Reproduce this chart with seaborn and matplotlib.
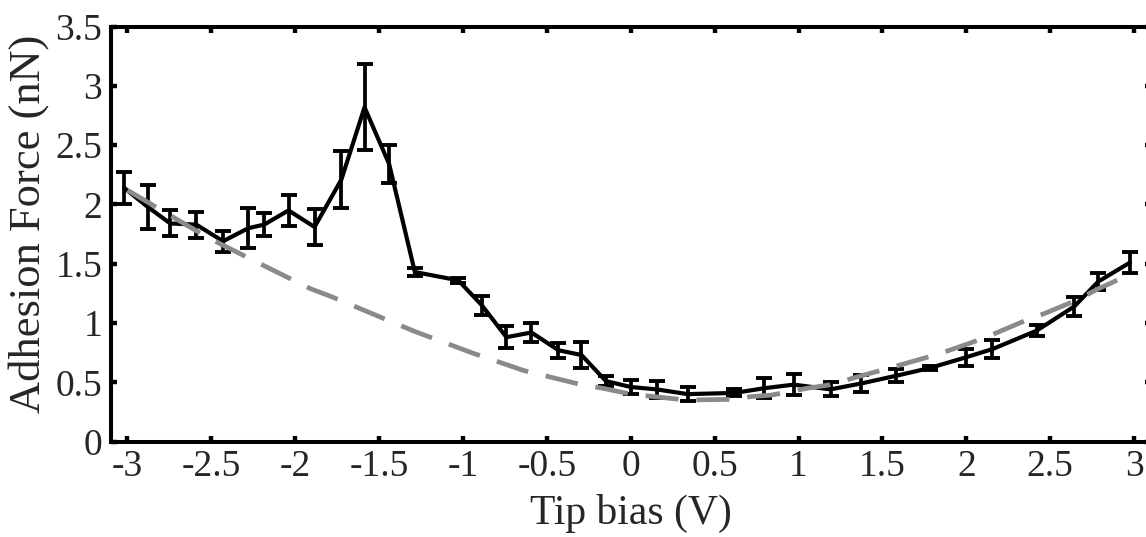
import matplotlib
matplotlib.use("Agg")
import matplotlib.pyplot as plt
import seaborn as sns
import pandas as pd

# Measured adhesion force with error bars
bias = [-3.02, -2.88, -2.745, -2.59, -2.43, -2.28, -2.185, -2.04, -1.885, -1.725,
        -1.587, -1.44, -1.287, -1.028, -0.888, -0.741, -0.592, -0.431, -0.294, -0.148,
        0.0, 0.154, 0.339, 0.618, 0.797, 0.972, 1.191, 1.374, 1.583, 1.782,
        1.997, 2.156, 2.419, 2.644, 2.787, 2.976]
force = [2.14, 1.98, 1.84, 1.83, 1.69, 1.80, 1.83, 1.95, 1.81, 2.21,
         2.82, 2.34, 1.43, 1.36, 1.15, 0.88, 0.92, 0.77, 0.73, 0.51,
         0.46, 0.44, 0.40, 0.41, 0.45, 0.48, 0.44, 0.49, 0.555, 0.62,
         0.71, 0.78, 0.935, 1.14, 1.35, 1.51]
force_err = [0.135, 0.187, 0.11, 0.11, 0.087, 0.17, 0.10, 0.133, 0.156, 0.243,
             0.363, 0.159, 0.035, 0.02, 0.08, 0.093, 0.082, 0.063, 0.113, 0.042,
             0.063, 0.073, 0.056, 0.03, 0.085, 0.087, 0.06, 0.073, 0.057, 0.015,
             0.073, 0.077, 0.048, 0.077, 0.07, 0.087]

# Fitted (dashed) curve
fit_bias = [-3.0, -2.52, -2.21, -1.91, -1.78, -1.29, -0.95, -0.64, -0.31, -0.17,
            0.0, 0.33, 0.61, 0.71, 0.84, 1.05, 1.18, 1.39, 1.50, 1.71,
            1.83, 2.03, 2.15, 2.35, 2.47, 2.67, 2.78, 2.98]
fit_force = [2.12, 1.72, 1.50, 1.29, 1.22, 0.93, 0.75, 0.60, 0.485, 0.45,
             0.40, 0.35, 0.356, 0.378, 0.392, 0.449, 0.477, 0.561, 0.603, 0.688,
             0.736, 0.834, 0.899, 1.019, 1.082, 1.2, 1.284, 1.413]

xticks = [-3, -2.5, -2, -1.5, -1, -0.5, 0, 0.5, 1, 1.5, 2, 2.5, 3]
xticklabels = ["-3", "-2.5", "-2", "-1.5", "-1", "-0.5", "0", "0.5", "1", "1.5", "2", "2.5", "3"]
yticks = [0, 0.5, 1, 1.5, 2, 2.5, 3, 3.5]
yticklabels = ["0", "0.5", "1", "1.5", "2", "2.5", "3", "3.5"]

sns.set_style("ticks")
plt.rcParams["font.family"] = ["Liberation Serif", "DejaVu Serif"]
plt.rcParams["mathtext.fontset"] = "stix"

df = pd.DataFrame({"bias": bias, "force": force, "err": force_err})
fit_df = pd.DataFrame({"bias": fit_bias, "force": fit_force})

fig = plt.figure(figsize=(11.46, 5.37), dpi=100)
ax = fig.add_axes([0.0966, 0.1778, 0.9076, 0.7725])

sns.lineplot(data=df, x="bias", y="force", ax=ax, color="black", lw=3.0, sort=False, zorder=3)
ax.errorbar(df["bias"], df["force"], yerr=df["err"], fmt="none", ecolor="black",
            elinewidth=2.7, capsize=5.5, capthick=2.8, zorder=3)
sns.lineplot(data=fit_df, x="bias", y="force", ax=ax, color="#8a8a8a", lw=3.4, sort=False,
             zorder=4)
ax.lines[-1].set_linestyle((0, (7.0, 3.8)))

ax.set_xlim(-3.1, 3.1)
ax.set_ylim(0, 3.5)
ax.set_xticks(xticks)
ax.set_xticklabels(xticklabels)
ax.set_yticks(yticks)
ax.set_yticklabels(yticklabels)
ax.tick_params(axis="both", which="both", direction="in", length=4.5, width=3.2,
               top=True, right=True, labelsize=27, pad=6, color="black")
for s in ax.spines.values():
    s.set_linewidth(2.9)
    s.set_color("black")
    s.set_visible(True)

ax.set_xlabel("Tip bias (V)", fontsize=30, labelpad=7)
ax.set_ylabel("Adhesion Force (nN)", fontsize=32)
ax.yaxis.set_label_coords(-0.059, 0.526)

fig.savefig("out.png", dpi=100)
